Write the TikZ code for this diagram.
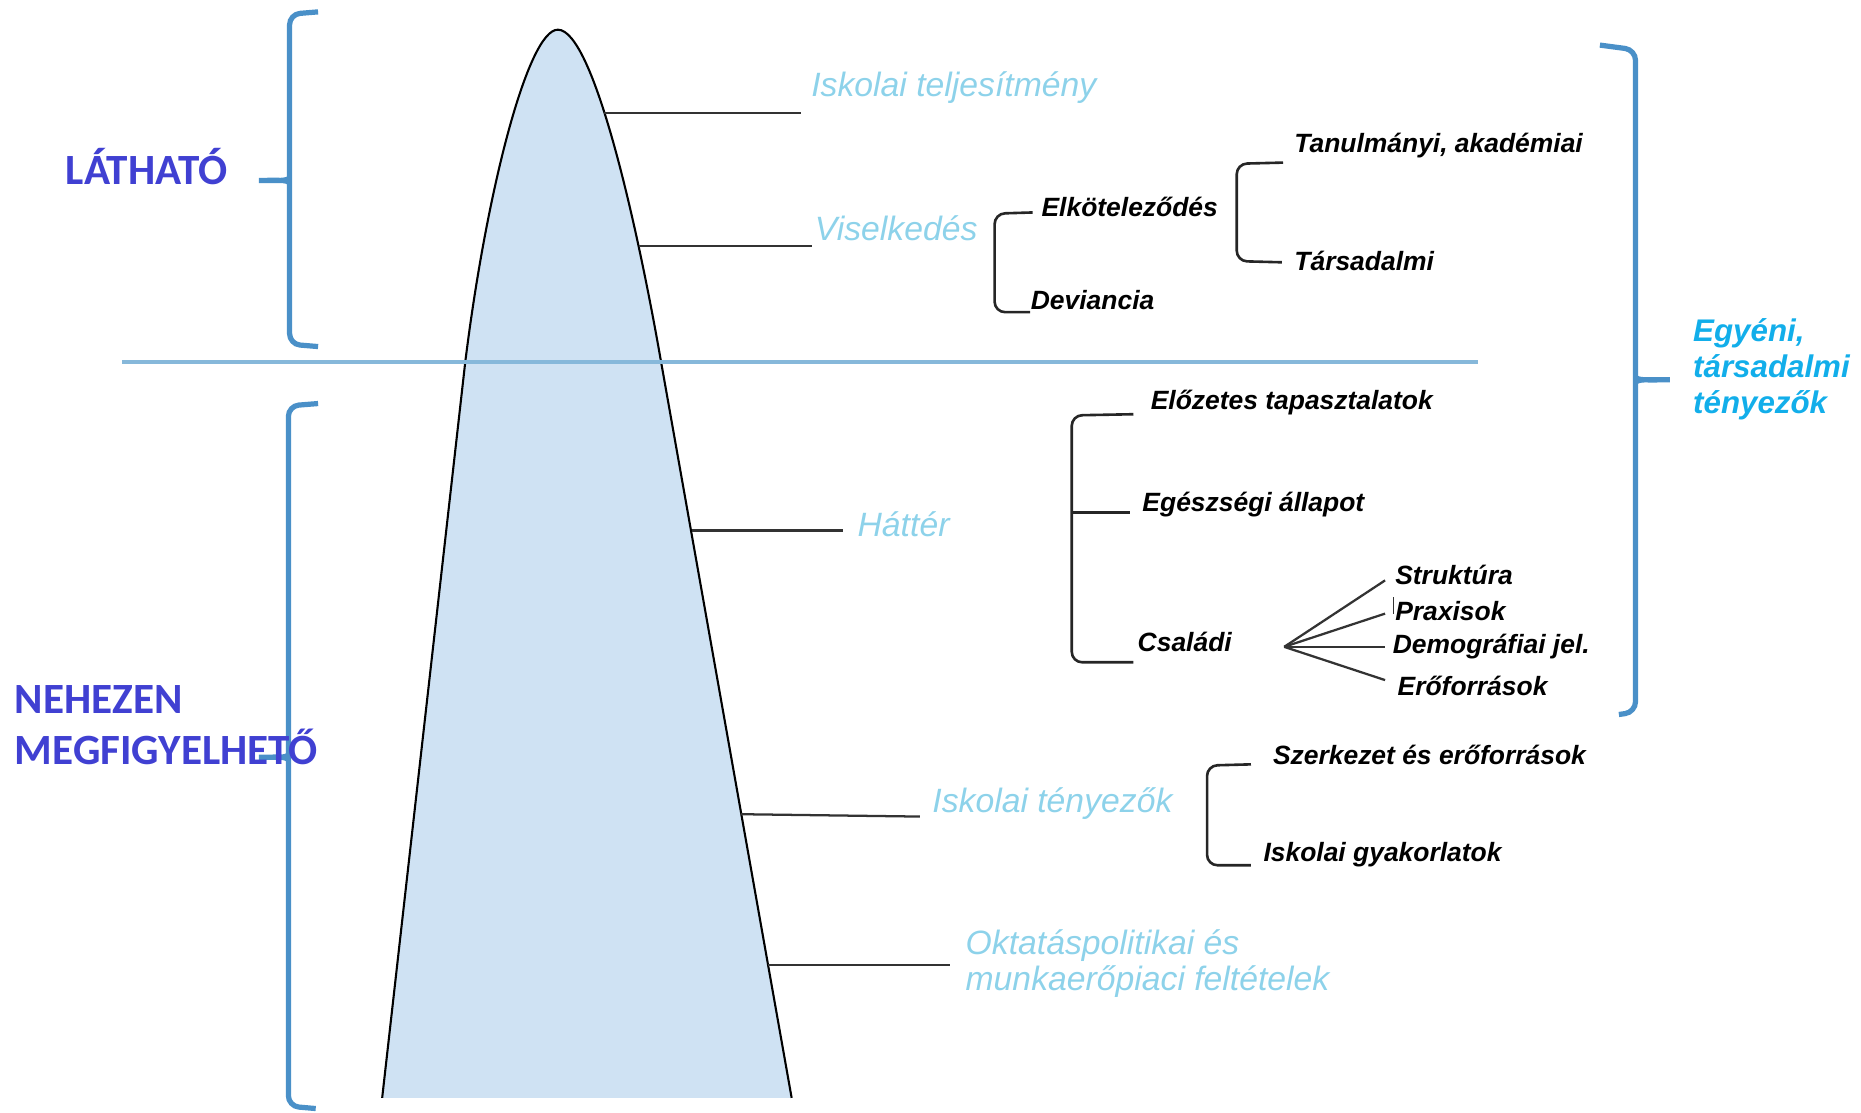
\documentclass[tikz,border=0pt]{standalone}
\usepackage{fontspec}
\setmainfont{Liberation Sans}
\newfontfamily\calibfont{Carlito}
\usetikzlibrary{positioning}
\definecolor{mountfill}{HTML}{CFE2F3}
\definecolor{bracecol}{HTML}{4A90C8}
\definecolor{sealine}{HTML}{86B8DA}
\definecolor{lightlbl}{HTML}{8DD2EA}
\definecolor{headcol}{HTML}{4040D2}
\definecolor{egyenicol}{HTML}{12AEEA}

\begin{document}
\begin{tikzpicture}[x=0.012cm,y=-0.012cm,
    brace/.style={bracecol, line width=1.5pt, rounded corners=3pt},
    bracket/.style={black!85, line width=0.75pt, rounded corners=3pt},
    leader/.style={black!80, line width=0.65pt},
    lightlabel/.style={lightlbl, font=\fontsize{9.7}{10.3}\selectfont\itshape, anchor=west, inner sep=0pt, align=left},
    darklabel/.style={black, font=\fontsize{7.6}{9}\selectfont\bfseries\itshape, anchor=west, inner sep=0pt},
    sidelabel/.style={headcol, font=\calibfont\fontsize{12.4}{14.7}\selectfont\bfseries, anchor=west, inner sep=0pt, align=left}]
    \useasboundingbox (0,0) rectangle (1568,937);

    % the mountain
    \fill[mountfill] (322,925) -- (392,305) .. controls (410,160) and (445,25) .. (470,25)
        .. controls (500,25) and (537,190) .. (557,305) -- (667,925) -- cycle;
    \draw[line width=0.6pt] (322,925) -- (392,305) .. controls (410,160) and (445,25) .. (470,25)
        .. controls (500,25) and (537,190) .. (557,305) -- (667,925);
    \draw[sealine, line width=0.9pt] (103,305) -- (1245,305);

    % labels along the mountain
    \node[lightlabel] (perf) at (683,74) {Iskolai teljesítmény};
    \node[lightlabel] (behav) at (686,192) {Viselkedés};
    \node[lightlabel] (backg) at (722,442) {Háttér};
    \node[lightlabel] (schoolf) at (785,677) {Iskolai tényezők};
    \node[lightlabel] (policy) at (813,812) {Oktatáspolitikai és\\munkaerőpiaci feltételek};

    \coordinate (perfm) at (509,95);   \coordinate (perfe) at (675,95);
    \coordinate (behavm) at (538,207); \coordinate (behave) at (684,207);
    \coordinate (backgm) at (583,447); \coordinate (backge) at (710,447);
    \coordinate (schoolm) at (624,686); \coordinate (schoole) at (775,688);
    \coordinate (policym) at (647,813); \coordinate (policye) at (800,813);
    \foreach \a in {perf,behav,backg,school,policy}
        \draw[leader] (\a m) -- (\a e);

    % sub-items
    \node[darklabel] (commit) at (877,174) {Elköteleződés};
    \node[darklabel] (devi) at (868,253) {Deviancia};
    \node[darklabel] (acad) at (1090,123) {Tanulmányi, akadémiai};
    \node[darklabel] (soc) at (1090,220) {Társadalmi};
    \node[darklabel] (prior) at (969,339) {Előzetes tapasztalatok};
    \node[darklabel] (health) at (962,425) {Egészségi állapot};
    \node[darklabel] (family) at (958,541) {Családi};
    \node[darklabel] (struct) at (1175,484) {Struktúra};
    \node[darklabel] (praxis) at (1175,515) {Praxisok};
    \node[darklabel] (demog) at (1173,545) {Demográfiai jel.};
    \node[darklabel] (resour) at (1177,578) {Erőforrások};
    \node[darklabel] (frame) at (1072,636) {Szerkezet és erőforrások};
    \node[darklabel] (practice) at (1064,720) {Iskolai gyakorlatok};

    % brackets
    \draw[bracket] (870,179) -- (838,180) -- (838,263) -- (868,263);
    \draw[bracket] (1081,137) -- (1042,138) -- (1042,220) -- (1080,221);
    \draw[bracket] (955,349) -- (903,350) -- (903,558) -- (955,558);
    \draw[bracket] (903,432) -- (952,432);
    \draw[bracket] (1054,644) -- (1017,645) -- (1017,729) -- (1054,729);

    % family fan
    \coordinate (fan) at (1082,545);
    \foreach \y in {489,517,545,573}
        \draw[leader] (fan) -- (1167,\y);
    \draw[leader, line width=0.4pt] (1174,503) -- (1174,517);

    % blue braces
    \draw[brace] (268,10) -- (244,12) -- (244,146) .. controls (244,151) and (230,152) .. (213,152)
        .. controls (230,152) and (244,153) .. (244,158) -- (244,290) -- (268,292);
    \draw[brace] (268,340) -- (243,342) -- (243,632) .. controls (243,637) and (230,638) .. (213,638)
        .. controls (230,638) and (243,639) .. (243,644) -- (243,932) -- (266,934);
    \draw[brace] (1348,38) -- (1378,42) -- (1378,314) .. controls (1378,319) and (1392,320) .. (1412,320)
        .. controls (1392,320) and (1378,321) .. (1378,326) -- (1378,600) -- (1364,602);

    \node[sidelabel] (visible) at (55,140) {LÁTHATÓ};
    \node[sidelabel] (hidden) at (12,611) {NEHEZEN\\MEGFIGYELHETŐ};
    \node[anchor=west, egyenicol, font=\fontsize{9}{10.3}\selectfont\bfseries\itshape, align=left, inner sep=0pt]
        (indiv) at (1426,311) {Egyéni,\\társadalmi\\tényezők};
\end{tikzpicture}
\end{document}
